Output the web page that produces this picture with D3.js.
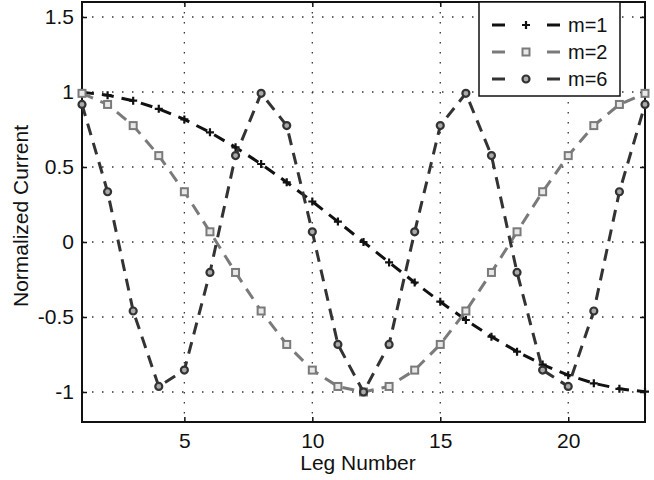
<!DOCTYPE html>
<html>
<head>
<meta charset="utf-8">
<script src="https://cdn.jsdelivr.net/npm/d3@7"></script>
<style>
  body { margin: 0; background: #fff; }
  text { font-family: Arial, "Liberation Sans", sans-serif; }
</style>
</head>
<body>
<div id="chart"></div>
<script>
// Leg numbers along the x axis
const legs = d3.range(1, 24);

// Normalized current, one value per leg
const m1 = [0.998, 0.979, 0.942, 0.888, 0.817, 0.731, 0.631, 0.520, 0.398, 0.270, 0.136, 0,
  -0.136, -0.270, -0.398, -0.520, -0.631, -0.731, -0.817, -0.888, -0.942, -0.979, -0.998];
const m2 = [0.991, 0.917, 0.776, 0.576, 0.335, 0.068, -0.203, -0.460, -0.683, -0.854, -0.963, -1,
  -0.963, -0.854, -0.683, -0.460, -0.203, 0.068, 0.335, 0.576, 0.776, 0.917, 0.991];
const m6 = [0.917, 0.335, -0.460, -0.963, -0.854, -0.203, 0.576, 0.991, 0.776, 0.068, -0.683, -1,
  -0.683, 0.068, 0.776, 0.991, 0.576, -0.203, -0.854, -0.963, -0.460, 0.335, 0.917];

const seriesNames = ['m=1', 'm=2', 'm=6'];
const xTicks = [5, 10, 15, 20];
const yTicks = [-1, -0.5, 0, 0.5, 1, 1.5];

const svgWidth = 654;
const svgHeight = 480;
const margin = { top: 2, right: 9, bottom: 58, left: 82 };
const width = svgWidth - margin.left - margin.right;
const height = svgHeight - margin.top - margin.bottom;

const svg = d3.select('#chart')
  .append('svg')
  .attr('width', svgWidth)
  .attr('height', svgHeight);

const chartGroup = svg.append('g')
  .attr('transform', `translate(${margin.left}, ${margin.top})`);

const x = d3.scaleLinear().domain([1, 23]).range([0, width]);
const y = d3.scaleLinear().domain([-1.2, 1.6]).range([height, 0]);

// dotted grid
chartGroup.append('g')
  .selectAll('line')
  .data(xTicks)
  .join('line')
  .attr('x1', d => x(d)).attr('x2', d => x(d))
  .attr('y1', 0).attr('y2', height)
  .attr('stroke', '#333')
  .attr('stroke-width', 1.3)
  .attr('stroke-dasharray', '1.5,8.5');

chartGroup.append('g')
  .selectAll('line')
  .data(yTicks)
  .join('line')
  .attr('x1', 0).attr('x2', width)
  .attr('y1', d => y(d)).attr('y2', d => y(d))
  .attr('stroke', '#333')
  .attr('stroke-width', 1.3)
  .attr('stroke-dasharray', '1.5,8.5');

// axes with inward ticks
const fmt = d => String(d);
const xAxis = d3.axisBottom(x).tickValues(xTicks).tickFormat(fmt).tickSize(-5).tickPadding(11);
const yAxis = d3.axisLeft(y).tickValues(yTicks).tickFormat(fmt).tickSize(-5).tickPadding(8);

const gx = chartGroup.append('g')
  .attr('transform', `translate(0, ${height})`)
  .call(xAxis);
const gy = chartGroup.append('g').call(yAxis);

chartGroup.append('g')
  .call(d3.axisTop(x).tickValues(xTicks).tickFormat('').tickSize(-5));
chartGroup.append('g')
  .attr('transform', `translate(${width}, 0)`)
  .call(d3.axisRight(y).tickValues(yTicks).tickFormat('').tickSize(-5));

chartGroup.selectAll('.domain').remove();
chartGroup.selectAll('.tick line').attr('stroke', '#111').attr('stroke-width', 1.5);
[gx, gy].forEach(g => g.selectAll('text')
  .attr('font-size', '21px')
  .attr('fill', '#111'));

chartGroup.append('rect')
  .attr('width', width)
  .attr('height', height)
  .attr('fill', 'none')
  .attr('stroke', '#111')
  .attr('stroke-width', 2);

// series
const series = [
  { name: seriesNames[0], values: m1, color: '#111', marker: 'plus' },
  { name: seriesNames[1], values: m2, color: '#7a7a7a', marker: 'square' },
  { name: seriesNames[2], values: m6, color: '#333', marker: 'circle' }
];

const line = d3.line()
  .x((d, i) => x(legs[i]))
  .y(d => y(d));

function drawMarker(g, type, color) {
  if (type === 'plus') {
    g.append('path')
      .attr('d', 'M-4,0H4M0,-4V4')
      .attr('stroke', color)
      .attr('stroke-width', 2.2);
  } else if (type === 'square') {
    g.append('rect')
      .attr('x', -3.5).attr('y', -3.5)
      .attr('width', 7).attr('height', 7)
      .attr('fill', '#e8e8e8')
      .attr('stroke', color)
      .attr('stroke-width', 2);
  } else {
    g.append('circle')
      .attr('r', 3.5)
      .attr('fill', '#aaa')
      .attr('stroke', color)
      .attr('stroke-width', 2.2);
  }
}

series.forEach(s => {
  chartGroup.append('path')
    .datum(s.values)
    .attr('d', line)
    .attr('fill', 'none')
    .attr('stroke', s.color)
    .attr('stroke-width', 3)
    .attr('stroke-dasharray', '12,8');

  s.values.forEach((v, i) => {
    const g = chartGroup.append('g')
      .attr('transform', `translate(${x(legs[i])}, ${y(v)})`);
    drawMarker(g, s.marker, s.color);
  });
});

// legend
const legend = svg.append('g').attr('transform', 'translate(479, 2)');
legend.append('rect')
  .attr('width', 141)
  .attr('height', 94)
  .attr('fill', '#fff')
  .attr('stroke', '#111')
  .attr('stroke-width', 1.5);

series.forEach((s, i) => {
  const row = legend.append('g').attr('transform', `translate(0, ${23 + i * 27})`);
  [[13, 26], [68, 81]].forEach(([a, b]) => {
    row.append('line')
      .attr('x1', a).attr('x2', b)
      .attr('stroke', s.color)
      .attr('stroke-width', 3);
  });
  const mg = row.append('g').attr('transform', 'translate(47, 0)');
  drawMarker(mg, s.marker, s.color);
  row.append('text')
    .attr('x', 89)
    .attr('y', 7)
    .attr('font-size', '20px')
    .attr('fill', '#111')
    .text(s.name);
});

// axis labels
svg.append('text')
  .attr('x', 358)
  .attr('y', 470)
  .attr('text-anchor', 'middle')
  .attr('font-size', '21px')
  .attr('fill', '#111')
  .text('Leg Number');

svg.append('text')
  .attr('transform', 'translate(28, 216) rotate(-90)')
  .attr('text-anchor', 'middle')
  .attr('font-size', '21px')
  .attr('fill', '#111')
  .text('Normalized Current');
</script>
</body>
</html>
